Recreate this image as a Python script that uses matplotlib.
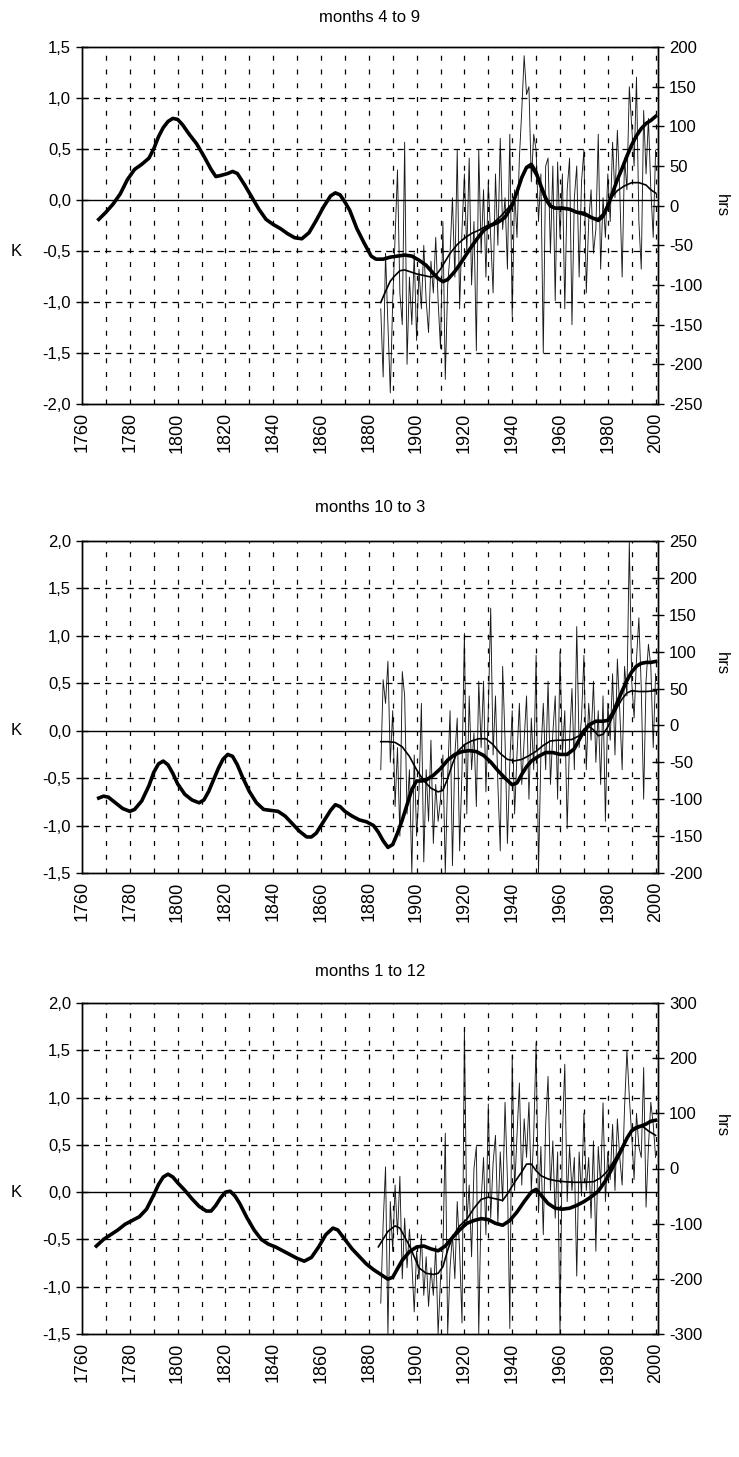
import matplotlib
matplotlib.use("Agg")
import matplotlib.pyplot as plt
from matplotlib.ticker import FixedLocator, FuncFormatter

plt.rcParams["font.family"] = ["Liberation Sans", "DejaVu Sans"]
plt.rcParams["axes.unicode_minus"] = False

# ------------------------------------------------------------------ data
TITLES = ["months 4 to 9", "months 10 to 3", "months 1 to 12"]

# smoothed temperature anomaly (K), left axis
temp_years_1 = [1767, 1770, 1773, 1776, 1779, 1782, 1785, 1788, 1790, 1792, 1794, 1796,
                1798, 1800, 1802, 1805, 1808, 1811, 1814, 1816, 1818, 1821, 1823, 1825,
                1828, 1831, 1834, 1837, 1840, 1843, 1846, 1849, 1852, 1855, 1858, 1861,
                1864, 1866, 1868, 1870, 1872, 1875, 1878, 1881, 1883, 1886, 1889, 1892,
                1895, 1898, 1901, 1904, 1907, 1909, 1911, 1913, 1916, 1919, 1922, 1925,
                1928, 1931, 1934, 1937, 1940, 1942, 1944, 1946, 1948, 1950, 1952, 1954,
                1956, 1958, 1961, 1964, 1967, 1970, 1973, 1976, 1978, 1980, 1982, 1984,
                1986, 1988, 1990, 1992, 1994, 1996, 1998, 2000]
temp_vals_1 = [-0.19, -0.12, -0.04, 0.06, 0.20, 0.30, 0.35, 0.41, 0.50, 0.62, 0.71, 0.77,
               0.80, 0.79, 0.74, 0.64, 0.55, 0.43, 0.30, 0.23, 0.24, 0.26, 0.28, 0.26,
               0.15, 0.03, -0.09, -0.19, -0.24, -0.28, -0.33, -0.37, -0.38, -0.32, -0.20, -0.07,
               0.04, 0.07, 0.05, -0.02, -0.10, -0.28, -0.42, -0.55, -0.58, -0.58, -0.56, -0.55,
               -0.54, -0.55, -0.59, -0.64, -0.72, -0.77, -0.80, -0.78, -0.70, -0.60, -0.49, -0.39,
               -0.30, -0.25, -0.22, -0.17, -0.05, 0.08, 0.22, 0.32, 0.35, 0.27, 0.14, 0.02,
               -0.06, -0.08, -0.08, -0.09, -0.12, -0.13, -0.17, -0.20, -0.16, -0.06, 0.07, 0.20,
               0.31, 0.43, 0.54, 0.63, 0.70, 0.75, 0.78, 0.82]

temp_years_2 = [1767, 1769, 1771, 1774, 1777, 1780, 1782, 1785, 1788, 1790, 1792, 1794,
                1796, 1798, 1800, 1803, 1806, 1809, 1811, 1813, 1815, 1817, 1819, 1821,
                1823, 1825, 1827, 1830, 1833, 1836, 1839, 1842, 1845, 1848, 1851, 1854,
                1856, 1858, 1860, 1862, 1864, 1866, 1868, 1870, 1873, 1876, 1879, 1882,
                1884, 1886, 1888, 1890, 1892, 1894, 1896, 1898, 1900, 1902, 1904, 1907,
                1910, 1913, 1916, 1919, 1922, 1925, 1928, 1931, 1934, 1937, 1940, 1942,
                1944, 1946, 1948, 1951, 1954, 1957, 1960, 1963, 1966, 1969, 1972, 1975,
                1978, 1980, 1982, 1984, 1986, 1988, 1990, 1992, 1994, 1996, 1998, 2000]
temp_vals_2 = [-0.71, -0.69, -0.70, -0.76, -0.82, -0.85, -0.83, -0.74, -0.58, -0.44, -0.35, -0.32,
               -0.36, -0.45, -0.56, -0.67, -0.73, -0.76, -0.73, -0.64, -0.52, -0.40, -0.30, -0.25,
               -0.27, -0.36, -0.48, -0.64, -0.76, -0.83, -0.84, -0.85, -0.90, -0.98, -1.06, -1.12,
               -1.12, -1.08, -1.00, -0.92, -0.84, -0.78, -0.80, -0.85, -0.90, -0.94, -0.96, -1.00,
               -1.07, -1.16, -1.23, -1.20, -1.08, -0.94, -0.78, -0.62, -0.53, -0.53, -0.52, -0.47,
               -0.40, -0.31, -0.25, -0.22, -0.21, -0.22, -0.26, -0.33, -0.42, -0.50, -0.57, -0.55,
               -0.46, -0.38, -0.32, -0.27, -0.23, -0.23, -0.25, -0.25, -0.19, -0.05, 0.06, 0.10,
               0.10, 0.11, 0.18, 0.30, 0.42, 0.53, 0.62, 0.68, 0.71, 0.72, 0.72, 0.73]

temp_years_3 = [1766, 1769, 1772, 1775, 1778, 1781, 1784, 1787, 1790, 1792, 1794, 1796,
                1798, 1800, 1803, 1806, 1809, 1812, 1814, 1816, 1818, 1820, 1822, 1824,
                1826, 1829, 1832, 1835, 1838, 1841, 1844, 1847, 1850, 1853, 1856, 1859,
                1862, 1865, 1867, 1870, 1873, 1876, 1879, 1882, 1885, 1888, 1890, 1892,
                1894, 1897, 1900, 1903, 1906, 1909, 1912, 1915, 1918, 1921, 1924, 1927,
                1930, 1933, 1936, 1939, 1942, 1945, 1948, 1950, 1952, 1955, 1958, 1961,
                1964, 1967, 1970, 1973, 1976, 1979, 1982, 1985, 1988, 1990, 1992, 1994,
                1996, 1998, 2000]
temp_vals_3 = [-0.57, -0.50, -0.45, -0.40, -0.34, -0.30, -0.26, -0.18, -0.03, 0.08, 0.16, 0.19,
               0.16, 0.10, 0.02, -0.07, -0.15, -0.20, -0.20, -0.14, -0.06, 0.00, 0.01, -0.04,
               -0.12, -0.27, -0.40, -0.50, -0.55, -0.58, -0.62, -0.66, -0.70, -0.73, -0.69, -0.58,
               -0.45, -0.38, -0.40, -0.50, -0.60, -0.68, -0.76, -0.82, -0.87, -0.92, -0.90, -0.81,
               -0.72, -0.63, -0.58, -0.57, -0.60, -0.62, -0.57, -0.48, -0.40, -0.33, -0.30, -0.28,
               -0.29, -0.33, -0.35, -0.30, -0.21, -0.10, 0.00, 0.03, -0.03, -0.12, -0.17, -0.18,
               -0.17, -0.14, -0.10, -0.05, 0.01, 0.12, 0.26, 0.41, 0.57, 0.65, 0.68, 0.70,
               0.72, 0.75, 0.76]

# smoothed sunshine anomaly (hrs), right axis
sun_s_years_1 = [1885, 1887, 1889, 1891, 1893, 1895, 1897, 1900, 1903, 1906, 1908, 1910,
                 1912, 1914, 1917, 1920, 1923, 1926, 1929, 1932, 1935, 1938, 1940, 1942,
                 1944, 1946, 1948, 1950, 1952, 1954, 1956, 1958, 1961, 1964, 1967, 1970,
                 1973, 1976, 1978, 1980, 1982, 1984, 1987, 1990, 1993, 1996, 1998, 2000]
sun_s_vals_1 = [-122, -108, -95, -88, -82, -81, -83, -86, -88, -90, -88, -80,
                -70, -60, -49, -41, -35, -31, -26, -22, -14, -4, 3, 18,
                35, 48, 48, 38, 22, 6, -2, -3, -2, -5, -9, -12,
                -15, -16, -10, 2, 12, 19, 25, 29, 29, 26, 20, 16]

sun_s_years_2 = [1885, 1888, 1891, 1894, 1897, 1900, 1903, 1906, 1909, 1911, 1913, 1915,
                 1917, 1920, 1923, 1926, 1929, 1932, 1935, 1938, 1941, 1944, 1947, 1950,
                 1953, 1956, 1959, 1962, 1965, 1968, 1970, 1972, 1974, 1976, 1978, 1980,
                 1982, 1984, 1986, 1988, 1990, 1993, 1996, 2000]
sun_s_vals_2 = [-22, -22, -23, -29, -42, -60, -75, -85, -90, -88, -72, -52,
                -36, -26, -21, -18, -18, -26, -38, -46, -48, -46, -41, -35,
                -27, -21, -20, -20, -19, -14, -5, -1, -6, -14, -12, -2,
                12, 25, 36, 44, 47, 46, 46, 47]

sun_s_years_3 = [1884, 1886, 1888, 1891, 1893, 1895, 1897, 1899, 1901, 1904, 1907, 1909,
                 1911, 1913, 1915, 1918, 1921, 1924, 1927, 1930, 1933, 1936, 1938, 1941,
                 1944, 1946, 1948, 1950, 1952, 1955, 1958, 1962, 1966, 1970, 1974, 1977,
                 1980, 1983, 1986, 1989, 1991, 1993, 1995, 1997, 2000]
sun_s_vals_3 = [-142, -128, -114, -104, -108, -124, -140, -160, -180, -190, -192, -190,
                -178, -148, -124, -104, -92, -72, -56, -52, -55, -58, -46, -25,
                -6, 8, 8, -4, -13, -19, -22, -24, -25, -25, -24, -17,
                -4, 17, 40, 62, 74, 78, 75, 68, 60]

# annual sunshine anomaly (hrs), 1885-2000, right axis
sun_years = list(range(1885, 2001))
sun_vals_1 = [-130, -216, -60, -150, -236, -120, -40, 45, -110, -150,
              80, -200, -90, -150, -60, -170, -80, -130, -50, -120,
              -160, -70, -110, -40, -120, -180, -20, -219, -100, -60,
              10, -90, 70, -130, -30, 40, -60, 60, -100, -20,
              -183, 70, -60, 20, -90, 30, -40, -110, 40, -50,
              85, -30, 10, -80, 90, -140, 20, -40, 60, 120,
              189, 140, 150, 30, 90, 70, -20, 40, -186, 50,
              60, -60, 50, -120, 55, -40, 40, -130, 20, 60,
              -150, 10, 50, -90, 30, 70, -110, -20, 20, -60,
              -30, 90, -80, 10, -40, 40, -20, 80, 10, 95,
              20, -90, 60, 20, 150, 100, 50, 162, -20, -80,
              120, 40, 110, 20, -40, 70]
sun_vals_2 = [-60, 62, 30, 87, -50, 20, -110, -30, -150, 73,
              40, -120, -60, -200, -40, -150, -90, 30, -185, -60,
              -130, -20, -160, -80, -130, -100, -40, -200, -70, 20,
              -190, -40, 10, -170, -60, 125, -120, 40, -60, -10,
              -110, 60, -30, 60, -90, 20, 159, -40, 40, -80,
              -170, 80, -20, -160, -50, 20, -120, -40, 30, -80,
              -20, 40, -100, 10, -60, 95, -200, -40, 30, -60,
              60, -80, -10, 40, -100, 100, -40, 20, -140, -20,
              50, -60, 134, -30, 10, 95, -60, 30, -20, 60,
              -50, 20, -80, 40, -130, 30, -20, 70, -40, 90,
              20, -60, 80, 40, 250, 60, 10, 90, 146, 50,
              -100, 60, 110, 80, -30, 70]
sun_vals_3 = [-244, -100, 3, -300, -60, -150, -30, -120, -14, -200,
              -90, -180, -110, -170, -260, -150, -200, -120, -230, -160,
              -250, -180, -230, -140, -300, -200, -150, 64, -300, -180,
              -120, -200, -60, -150, -280, 255, -100, -30, -160, 0,
              40, -300, -60, 20, -120, 117, -90, 10, 60, -100,
              30, -60, 120, -20, -290, 205, -40, 60, 155, -30,
              90, 20, 120, -40, 60, 228, -80, 40, -120, 80,
              167, -40, 50, -90, 30, -300, 60, 189, -60, 40,
              -40, 20, -195, 30, -50, 100, -40, 20, -90, 50,
              -150, 40, -30, 119, -60, 30, -20, 80, -40, 90,
              20, -30, 110, 214, 130, 60, -20, 100, 40, 20,
              183, -70, 40, 120, 80, 20]

K_LIMS = [(-2.0, 1.5), (-1.5, 2.0), (-1.5, 2.0)]
K_LABEL_AT = [-0.5, 0.0, 0.0]
HRS_LIMS = [(-250, 200), (-200, 250), (-300, 300)]
HRS_STEP = [50, 50, 100]

temps = [(temp_years_1, temp_vals_1), (temp_years_2, temp_vals_2), (temp_years_3, temp_vals_3)]
smooth_sun = [(sun_s_years_1, sun_s_vals_1), (sun_s_years_2, sun_s_vals_2), (sun_s_years_3, sun_s_vals_3)]
annual_sun = [sun_vals_1, sun_vals_2, sun_vals_3]

# axes rectangles in pixels (left, top, right, bottom) of a 739x1457 canvas
W, H = 739, 1457
BOXES = [(82, 47, 658, 404), (82, 541, 658, 873), (82, 1003, 658, 1334)]
TITLE_Y = [17, 508, 972]
HRS_LABEL_Y = [0.557, 0.63, 0.63]
FS = 12

fig = plt.figure(figsize=(W / 100, H / 100), dpi=100)

for i in range(3):
    l, t, r, b = BOXES[i]
    ax = fig.add_axes([l / W, 1 - b / H, (r - l) / W, (b - t) / H])
    ax2 = ax.twinx()
    ax.set_zorder(ax2.get_zorder() + 1)
    ax.patch.set_visible(False)

    lo, hi = K_LIMS[i]
    ax.set_xlim(1760, 2001)
    ax.set_ylim(lo, hi)
    hlo, hhi = HRS_LIMS[i]
    ax2.set_ylim(hlo, hhi)

    # grid: dashed at the ticks, solid zero line
    kt = [lo + 0.5 * k for k in range(int(round((hi - lo) / 0.5)) + 1)]
    ax.yaxis.set_major_locator(FixedLocator(kt))
    ax.yaxis.set_major_formatter(FuncFormatter(lambda v, p: f"{v:.1f}".replace(".", ",")))
    for y in kt:
        if abs(y) < 1e-9:
            ax.axhline(0, color="black", lw=1.0, zorder=1)
        elif lo < y < hi:
            ax.axhline(y, color="black", lw=0.9, dashes=(5, 4), zorder=1)
    for x in range(1770, 2001, 10):
        ax.axvline(x, color="black", lw=0.9, dashes=(4, 7), zorder=1)

    ax.set_xticks(range(1760, 2001, 20))
    ax.set_xticklabels([str(x) for x in range(1760, 2001, 20)], rotation=90, fontsize=13)
    ax.tick_params(axis="x", length=0, pad=6)
    ax.tick_params(axis="y", direction="inout", length=8, width=1, labelsize=FS, pad=4)

    ax2.set_yticks(range(hlo, hhi + 1, HRS_STEP[i]))
    ax2.tick_params(axis="y", direction="inout", length=8, width=1, labelsize=FS, pad=4)

    for a in (ax, ax2):
        for s in a.spines.values():
            s.set_linewidth(1.0)
            s.set_color("black")

    # series
    ax2.plot(sun_years, annual_sun[i], color="#1a1a1a", lw=0.65, zorder=2)
    sy, sv = smooth_sun[i]
    ax2.plot(sy, sv, color="black", lw=1.2, zorder=3)
    ty, tv = temps[i]
    ax.plot(ty, tv, color="black", lw=2.6, zorder=4, solid_joinstyle="round")

    fig.text((l + r) / 2 / W, 1 - TITLE_Y[i] / H, TITLES[i], fontsize=FS,
             ha="center", va="center")
    ax.text(-0.115, (K_LABEL_AT[i] - lo) / (hi - lo), "K", transform=ax.transAxes,
            fontsize=FS, ha="center", va="center")
    ax2.text(1.11, HRS_LABEL_Y[i], "hrs", transform=ax2.transAxes, fontsize=FS,
             rotation=270, ha="center", va="center")

fig.savefig("out.png", dpi=100)
